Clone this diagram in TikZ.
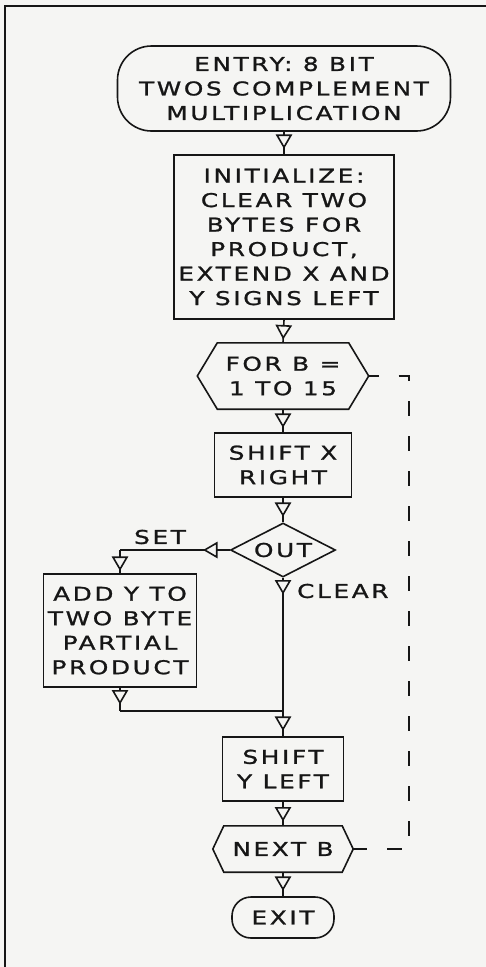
\documentclass[tikz,border=0pt]{standalone}
\usepackage{fontspec}
\newfontfamily\plotfont[FakeStretch=1.3, LetterSpace=14, FakeBold=1.2]{DejaVu Sans}
\usetikzlibrary{decorations.markings, shapes.geometric}
\definecolor{paper}{RGB}{245,245,243}
\definecolor{ink}{RGB}{22,22,22}
\tikzset{
  txt/.style={font=\plotfont\fontsize{19}{24.5}\selectfont, text=ink, align=center, inner sep=0pt},
  boxnode/.style={txt, rectangle, draw=ink, fill=paper, line width=1.6pt},
  termnode/.style={boxnode, rounded corners=#1},
  hexnode/.style={txt, rectangle, draw=none},
  conn/.style={draw=ink, line width=1.6pt},
  loopline/.style={draw=ink, line width=1.6pt, dash pattern=on 15pt off 20pt, dash phase=5pt},
  tipat/.style={postaction={decorate}, decoration={markings, mark=at position #1 with {\draw[draw=ink, fill=paper, line width=1.6pt, line join=miter, solid] (0pt,0pt) -- (-12pt,7pt) -- (-12pt,-7pt) -- cycle;}}}
}
\begin{document}
\begin{tikzpicture}[x=1pt, y=-1pt]
\path[fill=paper] (0,0) rectangle (486,967);
\useasboundingbox (0,0) rectangle (486,967);
% frame
\draw[ink, line width=1.8pt] (5,968) -- (5,6) -- (487,6);

% nodes
\node[termnode=34pt, minimum width=333pt, minimum height=85pt] (entry) at (284,88.5)
  {ENTRY: 8 BIT\\TWOS COMPLEMENT\\MULTIPLICATION};
\node[boxnode, minimum width=220pt, minimum height=164pt] (init) at (284,237)
  {INITIALIZE:\\CLEAR TWO\\BYTES FOR\\PRODUCT,\\EXTEND X AND\\Y SIGNS LEFT};
\node[hexnode, minimum width=171pt, minimum height=66pt] (forb) at (283,376)
  {FOR B =\\1 TO 15};
\node[boxnode, minimum width=137pt, minimum height=64pt] (shiftx) at (283,465)
  {SHIFT X\\RIGHT};
\node[txt, diamond, draw=ink, line width=1.6pt, aspect=1.94, minimum width=105pt, minimum height=54pt] (out) at (283,550) {OUT};
\node[boxnode, minimum width=153pt, minimum height=113pt] (add) at (120,630.5)
  {ADD Y TO\\TWO BYTE\\PARTIAL\\PRODUCT};
\node[boxnode, minimum width=121pt, minimum height=64pt] (shifty) at (283,769)
  {SHIFT\\Y LEFT};
\node[hexnode, minimum width=140pt, minimum height=46pt] (next) at (283,849)
  {NEXT B};
\node[termnode=19pt, minimum width=102pt, minimum height=41pt] (exit) at (283,917.5)
  {EXIT};

% hexagon outlines
\draw[ink, line width=1.6pt] (forb.west) -- ([xshift=20pt]forb.north west) -- ([xshift=-20pt]forb.north east)
  -- (forb.east) -- ([xshift=-20pt]forb.south east) -- ([xshift=20pt]forb.south west) -- cycle;
\draw[ink, line width=1.6pt] (next.west) -- ([xshift=11pt]next.north west) -- ([xshift=-11pt]next.north east)
  -- (next.east) -- ([xshift=-11pt]next.south east) -- ([xshift=11pt]next.south west) -- cycle;

% labels
\node[txt] (setl) at (160,537) {SET};
\node[txt, anchor=west] (clearl) at (297,591) {CLEAR};

% coordinates
\coordinate (junc) at (283,711);
\coordinate (setc) at (add.north |- out.west);
\coordinate (addc) at (add.south |- junc);
\coordinate (lt) at ([xshift=40pt]forb.east);
\coordinate (lb) at (lt |- next.east);

% connectors
\draw[conn, tipat=-7pt] (entry.south) -- (init.north);
\draw[conn, tipat=-5pt] (init.south) -- (forb.north);
\draw[conn, tipat=-6pt] (forb.south) -- (shiftx.north);
\draw[conn, tipat=-7pt] (shiftx.south) -- (out.north);
\draw[conn, tipat=25pt] (out.west) -- (setc);
\draw[conn, tipat=-4pt] (setc) -- (add.north);
\draw[conn, tipat=15pt] (out.south) -- (junc);
\draw[conn, tipat=15pt] (add.south) -- (addc);
\draw[conn] (addc) -- (junc);
\draw[conn, tipat=-7pt] (junc) -- (shifty.north);
\draw[conn, tipat=-6pt] (shifty.south) -- (next.north);
\draw[conn, tipat=-7pt] (next.south) -- (exit.north);
\draw[loopline] (forb.east) -- (lt) -- (lb) -- (next.east);
\end{tikzpicture}
\end{document}
